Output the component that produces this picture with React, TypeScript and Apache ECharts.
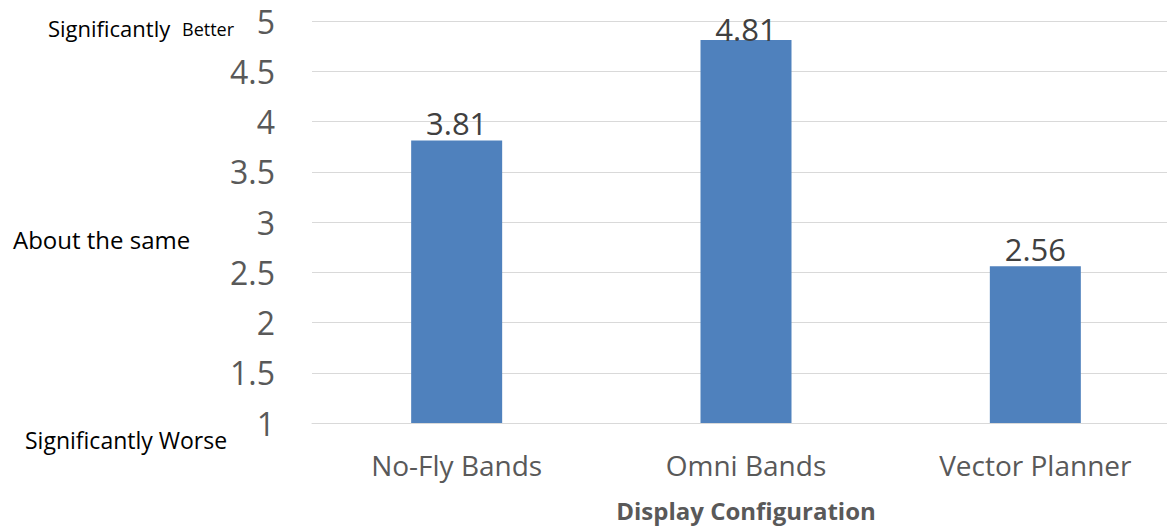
import React, { useEffect, useRef } from "react";
import * as echarts from "echarts";

const categories = ["No-Fly Bands", "Omni Bands", "Vector Planner"];
const values = [3.81, 4.81, 2.56];
const yMin = 1;
const yMax = 5;
const yInterval = 0.5;
const xAxisTitle = "Display Configuration";
const sideLabels = {
  top: ["Significantly", "Better"],
  middle: "About the same",
  bottom: "Significantly Worse",
};

const FONT = "'Open Sans', 'Noto Sans', sans-serif";

export default function App() {
  const ref = useRef<HTMLDivElement>(null);
  useEffect(() => {
    if (!ref.current) return;
    const chart = echarts.init(ref.current, undefined, { renderer: "svg" });
    chart.setOption({
      animation: false,
      backgroundColor: "#ffffff",
      grid: { left: 312, right: 0, top: 21, bottom: 102, containLabel: false },
      xAxis: {
        type: "category",
        data: categories,
        axisLine: { show: true, lineStyle: { color: "#D9D9D9", width: 1 } },
        axisTick: { show: false },
        axisLabel: { color: "#595959", fontSize: 28, fontFamily: FONT, margin: 28, interval: 0 },
        name: xAxisTitle,
        nameLocation: "middle",
        nameGap: 75,
        nameTextStyle: { color: "#595959", fontSize: 24, fontWeight: "bold", fontFamily: FONT },
      },
      yAxis: {
        type: "value",
        min: yMin,
        max: yMax,
        interval: yInterval,
        axisLine: { show: false },
        axisTick: { show: false },
        splitLine: { show: true, lineStyle: { color: "#D9D9D9", width: 1 } },
        axisLabel: { color: "#595959", fontSize: 32, fontFamily: FONT, margin: 37 },
      },
      series: [
        {
          type: "bar",
          data: values.map((v, i) => ({
            value: v,
            label: { distance: i === 1 ? -4 : 2 },
          })),
          barWidth: 91,
          itemStyle: { color: "#4F81BD" },
          label: {
            show: true,
            position: "top",
            color: "#404040",
            fontSize: 31,
            fontFamily: FONT,
          },
        },
      ],
      graphic: [
        {
          type: "text",
          left: 48,
          top: 16.5,
          style: { text: sideLabels.top[0], fontSize: 22, fontFamily: FONT, fill: "#000000" },
        },
        {
          type: "text",
          left: 182,
          top: 19.5,
          style: { text: sideLabels.top[1], fontSize: 18, fontFamily: FONT, fill: "#000000" },
        },
        {
          type: "text",
          left: 13,
          top: 227,
          style: { text: sideLabels.middle, fontSize: 24, fontFamily: FONT, fill: "#000000" },
        },
        {
          type: "text",
          left: 25,
          top: 428,
          style: { text: sideLabels.bottom, fontSize: 23, fontFamily: FONT, fill: "#000000" },
        },
      ],
    });
    return () => chart.dispose();
  }, []);
  return (
    <div style={{ position: "fixed", left: 0, top: 0, width: 1167, height: 527, overflow: "hidden" }}>
      <div ref={ref} style={{ width: 1180, height: 527 }} />
    </div>
  );
}
